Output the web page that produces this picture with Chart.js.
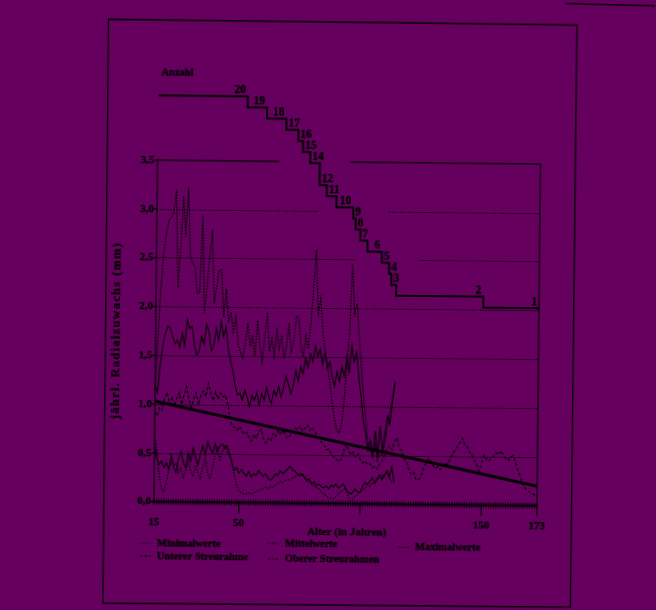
<!DOCTYPE html>
<html>
<head>
<meta charset="utf-8">
<script src="https://cdn.jsdelivr.net/npm/chart.js@4/dist/chart.umd.min.js"></script>
<style>
  html, body { margin: 0; padding: 0; background: #66005e; }
  #wrap { width: 656px; height: 610px; position: relative; overflow: hidden; background: #66005e; }
  #c { position: absolute; left: 0; top: 0; transform: rotate(0.6deg); transform-origin: 328px 305px; }
</style>
</head>
<body>
<div id="wrap"><canvas id="c" width="656" height="610"></canvas></div>
<script>
// Annual radial growth (mm) of a group of trees by age, one value per year.
const firstAge = 15;

// Maximalwerte, ages 15-114
const maxValues = [
  1.15, 1.7, 2.2, 2.55, 2.75, 2.88, 2.92, 2.96, 3.2, 2.19,
  2.6, 3.13, 2.72, 3.22, 2.51, 2.45, 2.41, 2.14, 2.15, 2.94,
  1.94, 2.21, 2.5, 2.79, 2.04, 2.2, 2.38, 2.38, 1.9, 2.19,
  1.84, 1.95, 1.75, 1.9, 1.62, 1.55, 1.48, 1.62, 1.84, 1.6,
  1.7, 1.5, 1.87, 1.62, 1.45, 1.7, 1.95, 1.55, 1.68, 1.5,
  1.8, 1.58, 1.72, 1.48, 1.6, 1.85, 1.55, 1.65, 1.92, 1.9,
  1.6, 1.5, 1.72, 1.58, 1.85, 2.2, 2.6, 1.95, 2.1, 1.75,
  1.55, 1.42, 1.25, 1.05, 0.88, 0.76, 0.72, 0.8, 1.05, 1.4,
  1.75, 2.45, 1.95, 2.05, 1.7, 1.4, 1.1, 0.85, 0.62, 0.55,
  0.48, 0.6, 0.45, 0.55, 0.5, 0.62, 0.8, 0.95, 1.1, 1.27
];

// Oberer Streurahmen, ages 15-114
const upperBand = [
  1.2, 1.12, 1.4, 1.6, 1.72, 1.8, 1.78, 1.7, 1.62, 1.66,
  1.58, 1.73, 1.6, 1.87, 1.78, 1.8, 1.62, 1.5, 1.55, 1.7,
  1.62, 1.82, 1.75, 1.55, 1.6, 1.78, 1.66, 1.85, 1.7, 1.8,
  1.58, 1.45, 1.35, 1.2, 1.1, 1.12, 1.05, 1.15, 1.08, 0.98,
  1.1, 1.05, 1.13, 1.0, 1.12, 1.05, 1.18, 1.08, 1.02, 1.15,
  1.1, 1.2, 1.08, 1.18, 1.3, 1.22, 1.12, 1.2, 1.36, 1.25,
  1.4, 1.32, 1.48, 1.39, 1.53, 1.45, 1.62, 1.5, 1.58, 1.42,
  1.55, 1.38, 1.45, 1.3, 1.2, 1.35, 1.25, 1.4, 1.3, 1.5,
  1.35, 1.62, 1.45, 1.55, 1.3, 1.1, 0.85, 0.72, 0.55, 0.65,
  0.5, 0.75, 0.48, 0.8, 0.55, 0.72, 0.9, 0.82, 1.05, 1.25
];

// Mittelwerte, ages 15-173
const meanValues = [
  0.92, 0.88, 0.97, 0.94, 1.07, 1.12, 1.0, 1.08, 0.98, 1.06,
  1.12, 1.0, 1.1, 1.18, 1.05, 0.97, 1.06, 1.12, 1.0, 1.1,
  1.14, 1.08, 1.22, 1.12, 1.04, 1.13, 1.06, 1.12, 1.08, 1.1,
  1.02, 0.86, 0.78, 0.77, 0.74, 0.78, 0.73, 0.7, 0.72, 0.66,
  0.63, 0.7, 0.66, 0.73, 0.75, 0.65, 0.61, 0.66, 0.64, 0.71,
  0.68, 0.75, 0.7, 0.75, 0.69, 0.66, 0.7, 0.73, 0.77, 0.75,
  0.79, 0.74, 0.77, 0.8, 0.75, 0.78, 0.73, 0.71, 0.66, 0.62,
  0.6, 0.55, 0.56, 0.5, 0.48, 0.46, 0.43, 0.45, 0.53, 0.61,
  0.55, 0.5, 0.53, 0.48, 0.51, 0.45, 0.42, 0.44, 0.4, 0.41,
  0.37, 0.39, 0.36, 0.41, 0.44, 0.5, 0.57, 0.6, 0.56, 0.64,
  0.68, 0.58, 0.55, 0.47, 0.44, 0.36, 0.31, 0.33, 0.26, 0.25,
  0.28, 0.36, 0.42, 0.47, 0.45, 0.4, 0.37, 0.39, 0.36, 0.4,
  0.43, 0.41, 0.47, 0.52, 0.56, 0.6, 0.64, 0.68, 0.62, 0.6,
  0.54, 0.51, 0.46, 0.41, 0.35, 0.43, 0.51, 0.47, 0.45, 0.49,
  0.5, 0.54, 0.52, 0.56, 0.51, 0.48, 0.46, 0.5, 0.51, 0.44,
  0.36, 0.3, 0.22, 0.18, 0.15, 0.14, 0.12, 0.11, 0.1
];

// Unterer Streurahmen, ages 15-114
const lowerBand = [
  0.6, 0.45, 0.38, 0.42, 0.35, 0.4, 0.33, 0.48, 0.36, 0.3,
  0.45, 0.52, 0.4, 0.35, 0.5, 0.42, 0.55, 0.45, 0.38, 0.5,
  0.58, 0.48, 0.62, 0.55, 0.5, 0.6, 0.52, 0.58, 0.6, 0.55,
  0.58, 0.49, 0.4, 0.33, 0.36, 0.3, 0.34, 0.3, 0.27, 0.32,
  0.26, 0.3, 0.28, 0.33, 0.3, 0.27, 0.3, 0.25, 0.23, 0.26,
  0.3, 0.28, 0.33, 0.3, 0.32, 0.35, 0.38, 0.34, 0.33, 0.3,
  0.28, 0.3, 0.26, 0.23, 0.25, 0.2, 0.22, 0.18, 0.2, 0.17,
  0.16, 0.18, 0.15, 0.19, 0.17, 0.2, 0.16, 0.18, 0.2, 0.16,
  0.12, 0.1, 0.12, 0.15, 0.12, 0.12, 0.18, 0.22, 0.2, 0.23,
  0.27, 0.22, 0.26, 0.3, 0.25, 0.3, 0.34, 0.28, 0.38, 0.22
];

// Minimalwerte, ages 15-114
const minValues = [
  0.72, 0.5, 0.28, 0.14, 0.1, 0.2, 0.33, 0.42, 0.36, 0.4,
  0.3, 0.35, 0.25, 0.32, 0.42, 0.33, 0.26, 0.38, 0.3, 0.24,
  0.36, 0.45, 0.3, 0.24, 0.35, 0.48, 0.56, 0.44, 0.52, 0.58,
  0.5, 0.5, 0.42, 0.28, 0.18, 0.12, 0.1, 0.09, 0.09, 0.1,
  0.09, 0.1, 0.11, 0.12, 0.14, 0.15, 0.16, 0.15, 0.17, 0.16,
  0.18, 0.2, 0.22, 0.21, 0.23, 0.24, 0.23, 0.26, 0.27, 0.28,
  0.3, 0.3, 0.28, 0.25, 0.22, 0.2, 0.18, 0.16, 0.15, 0.12,
  0.1, 0.08, 0.06, 0.05, 0.05, 0.07, 0.1, 0.12, 0.14, 0.16,
  0.08, 0.03, 0.05, 0.08, 0.1, 0.12, 0.14, 0.16, 0.2, 0.18,
  0.22, 0.2, 0.25, 0.27, 0.3, 0.28, 0.31, 0.27, 0.23, 0.26
];

// Linear trend of the mean growth
const trendAges = [15, 173];
const trendValues = [1.03, 0.2];

// Number of trees ("Anzahl"): count from each age on; last age closes the final step
const treeCountAges = [15, 52, 60, 68, 73, 75, 78, 82, 85, 89, 96, 97, 99, 102, 108, 111, 112, 114, 150, 173];
const treeCounts    = [20, 19, 18, 17, 16, 15, 14, 12, 11, 10, 9, 8, 7, 6, 5, 4, 3, 2, 1, 1];

// Axis ticks
const yTickValues = [0, 0.5, 1, 1.5, 2, 2.5, 3, 3.5];
const xTickLabels = [15, 50, 150, 173];
const xLongTicks = [50, 100, 150, 173];

const INK = '#000000';
const FONT = '"Liberation Serif", "Times New Roman", serif';

const toPoints = (values) => values.map((v, i) => ({ x: firstAge + i, y: v }));

// Gaps left in the horizontal rules where the tree-count staircase runs through
const ruleGaps = { '3.5': [65.2, 94.3], '3': [81.9, 110.8], '2.5': [96.8, 123.6] };

const series = [
  { label: 'Maximalwerte', data: toPoints(maxValues), dash: [1.8, 1.2], width: 1.2 },
  { label: 'Oberer Streurahmen', data: toPoints(upperBand), dash: [], width: 1.1 },
  { label: 'Mittelwerte', data: toPoints(meanValues), dash: [3.2, 2], width: 1.2 },
  { label: 'Unterer Streurahme', data: toPoints(lowerBand), dash: [], width: 1.1 },
  { label: 'Minimalwerte', data: toPoints(minValues), dash: [1.5, 1.5], width: 1.2 }
];

const legendItems = [
  { text: 'Minimalwerte', x: 159.5, y: 545, dash: [1.4, 1.6] },
  { text: 'Unterer Streurahme', x: 159.5, y: 558, dash: [3, 1.5] },
  { text: 'Mittelwerte', x: 287.5, y: 544, dash: [2, 1.5] },
  { text: 'Oberer Streurahmen', x: 287.5, y: 559.5, dash: [3, 1.5, 1, 1.5] },
  { text: 'Maximalwerte', x: 417.5, y: 546.5, dash: [1.4, 1.6] }
];

// bold text with a thin outline so it reads as heavy print
function inkText(ctx, text, x, y) {
  ctx.fillText(text, x, y);
  ctx.strokeText(text, x, y);
}

const decor = {
  id: 'decor',
  beforeDatasetsDraw(chart) {
    const { ctx, scales: { x, y } } = chart;
    const seg = (x1, y1, x2, y2) => { ctx.beginPath(); ctx.moveTo(x1, y1); ctx.lineTo(x2, y2); ctx.stroke(); };
    ctx.save();
    ctx.strokeStyle = INK;
    ctx.fillStyle = INK;

    // page frame
    ctx.lineWidth = 1.3;
    ctx.beginPath();
    ctx.moveTo(105.5, 21.5); ctx.lineTo(574, 22.5); ctx.lineTo(573.5, 604.5); ctx.lineTo(106, 605.5);
    ctx.closePath(); ctx.stroke();
    ctx.lineWidth = 1.6;
    seg(562, 1, 652, 2.5);

    const xl = x.getPixelForValue(15), xr = x.getPixelForValue(173);
    const yTop = y.getPixelForValue(3.5), yZero = y.getPixelForValue(0);

    // horizontal rules, dotted, with gaps for the staircase
    ctx.lineWidth = 1.1;
    yTickValues.forEach(v => {
      if (v === 0 || v === 3.5) return;
      const py = Math.round(y.getPixelForValue(v)) + 0.5;
      ctx.setLineDash([1.5, 1.2]);
      const gap = ruleGaps[String(v)];
      if (gap) {
        seg(xl, py, x.getPixelForValue(gap[0]), py);
        seg(x.getPixelForValue(gap[1]), py, xr, py);
      } else {
        seg(xl, py, xr, py);
      }
    });
    ctx.setLineDash([]);

    // plot frame: top rule (3.5) with its gap, left axis, right edge
    ctx.lineWidth = 1.2;
    const gTop = ruleGaps['3.5'];
    seg(xl, yTop, x.getPixelForValue(gTop[0]), yTop);
    seg(x.getPixelForValue(gTop[1]), yTop, xr, yTop);
    seg(xl, yTop, xl, yZero);
    seg(xr, yTop, xr, yZero);

    // y ticks
    yTickValues.forEach(v => {
      const py = y.getPixelForValue(v);
      seg(xl - 3, py, xl, py);
    });

    // x axis with yearly ticks
    ctx.lineWidth = 2;
    seg(xl - 2, yZero, xr, yZero);
    ctx.lineWidth = 0.9;
    for (let a = 15; a <= 173; a++) {
      const px = x.getPixelForValue(a);
      seg(px, yZero - 3, px, yZero + 3);
    }
    ctx.lineWidth = 1.2;
    xLongTicks.forEach(a => {
      const px = x.getPixelForValue(a);
      seg(px, yZero, px, yZero + 11);
    });
    ctx.restore();
  },
  afterDatasetsDraw(chart) {
    const { ctx, scales: { x, y, yN } } = chart;
    ctx.save();
    ctx.fillStyle = INK;
    ctx.strokeStyle = INK;
    ctx.lineWidth = 0.35;

    // y tick labels
    ctx.font = `bold 11px ${FONT}`;
    ctx.textAlign = 'right';
    ctx.textBaseline = 'middle';
    yTickValues.forEach(v => {
      inkText(ctx, v.toFixed(1).replace('.', ','), x.getPixelForValue(15) - 3, y.getPixelForValue(v));
    });

    // x tick labels
    ctx.textAlign = 'center';
    xTickLabels.forEach(a => inkText(ctx, String(a), x.getPixelForValue(a), 524));

    // axis titles
    ctx.font = `bold 11px ${FONT}`;
    inkText(ctx, 'Alter (in Jahren)', 349, 532);
    ctx.save();
    ctx.translate(117, (y.getPixelForValue(0) + y.getPixelForValue(3.5)) / 2);
    ctx.rotate(-Math.PI / 2);
    ctx.font = `bold 12px ${FONT}`;
    ctx.letterSpacing = '1.5px';
    inkText(ctx, 'jährl. Radialzuwachs (mm)', 0, 0);
    ctx.restore();

    // tree-count labels above each step
    ctx.font = `bold 10.5px ${FONT}`;
    ctx.textAlign = 'center';
    ctx.textBaseline = 'alphabetic';
    inkText(ctx, 'Anzahl', 175, 77);
    ctx.font = `bold 11.5px ${FONT}`;
    for (let i = 0; i < treeCounts.length - 1; i++) {
      const label = String(treeCounts[i]);
      const w = ctx.measureText(label).width;
      const start = x.getPixelForValue(treeCountAges[i]);
      const end = x.getPixelForValue(treeCountAges[i + 1]);
      const cx = Math.max(end - w / 2 - 2, start + w / 2 + 2);
      inkText(ctx, label, cx, yN.getPixelForValue(treeCounts[i]) - 3);
    }

    // legend
    ctx.textAlign = 'left';
    ctx.textBaseline = 'middle';
    ctx.font = `bold 10.5px ${FONT}`;
    legendItems.forEach(it => {
      ctx.lineWidth = 1;
      ctx.setLineDash(it.dash);
      ctx.beginPath();
      ctx.moveTo(it.x - 17, it.y);
      ctx.lineTo(it.x - 6, it.y);
      ctx.stroke();
      ctx.setLineDash([]);
      ctx.lineWidth = 0.35;
      inkText(ctx, it.text, it.x, it.y);
    });
    ctx.restore();
  }
};

const datasets = series.map(s => ({
  label: s.label,
  data: s.data,
  borderColor: INK,
  borderWidth: s.width,
  borderDash: s.dash,
  pointRadius: 0,
  tension: 0,
  fill: false,
  yAxisID: 'y'
}));

datasets.push({
  label: 'Trend',
  data: trendAges.map((a, i) => ({ x: a, y: trendValues[i] })),
  borderColor: INK,
  borderWidth: 3,
  pointRadius: 0,
  fill: false,
  yAxisID: 'y'
});

datasets.push({
  label: 'Anzahl',
  data: treeCountAges.map((a, i) => ({ x: a, y: treeCounts[i] })),
  borderColor: INK,
  borderWidth: 2,
  stepped: 'before',
  pointRadius: 0,
  fill: false,
  yAxisID: 'yN'
});

new Chart(document.getElementById('c'), {
  type: 'line',
  data: { datasets },
  options: {
    responsive: false,
    animation: false,
    devicePixelRatio: 1,
    layout: { padding: { left: 156, right: 117, top: 74, bottom: 106.5 } },
    plugins: { legend: { display: false }, tooltip: { enabled: false } },
    scales: {
      x: { type: 'linear', min: 15, max: 173, display: false },
      y: { type: 'linear', min: 0, max: 4.4, display: false },
      yN: { type: 'linear', min: -16.96, max: 22.12, display: false }
    }
  },
  plugins: [decor]
});
</script>
</body>
</html>
